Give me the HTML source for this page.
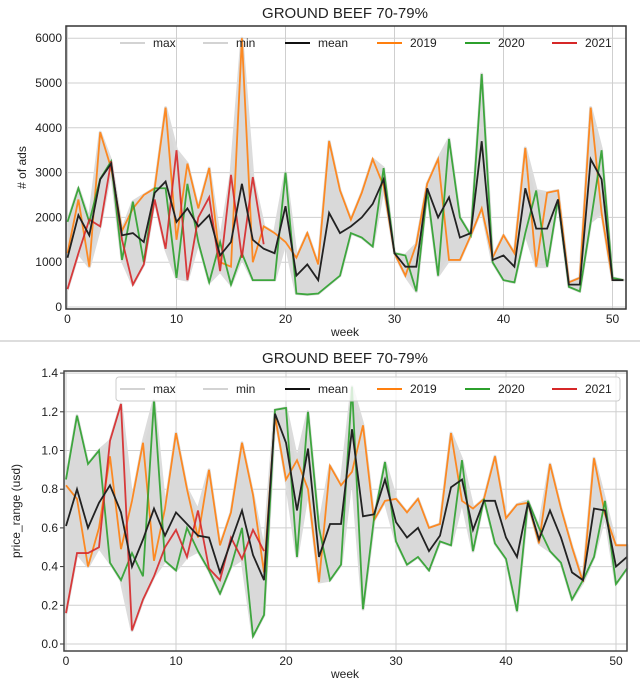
<!DOCTYPE html>
<html><head><meta charset="utf-8"><style>
body{margin:0;background:#fff;font-family:"Liberation Sans","DejaVu Sans",sans-serif;}
svg text{font-family:"Liberation Sans","DejaVu Sans",sans-serif;fill:#222;}
</style></head><body>
<svg id="c" width="640" height="695" viewBox="0 0 640 695" xmlns="http://www.w3.org/2000/svg"></svg>
<script>
const weeks = Array.from({length:52},(_,i)=>i);
const adsY2019 = [1200,2400,900,3900,3100,1700,2200,2500,2650,4450,1500,3200,2200,3100,1000,900,6000,1000,1800,1650,1450,1100,1650,950,3700,2600,1950,2550,3300,2700,1200,700,1400,2750,3300,1050,1050,1600,2200,1100,1600,1200,3550,900,2550,2600,550,650,4450,2100,600,600];
const adsY2020 = [1900,2650,1900,2860,3250,1050,2350,1000,2650,2650,650,2750,1450,550,1450,500,1200,600,600,600,3000,300,280,300,500,700,1650,1550,1350,3100,1200,1150,350,2600,700,3750,2000,1600,5200,1000,600,550,1650,2600,900,2400,450,350,1900,3500,650,600];
const adsY2021 = [400,1200,1950,1800,3250,1500,500,950,2400,1300,3500,600,2000,2450,800,2950,1100,2900,1400];
const adsMean = [1100,2050,1600,2850,3200,1600,1650,1450,2550,2800,1900,2200,1800,2050,1150,1450,2750,1500,1300,1200,2250,700,950,600,2100,1650,1800,2000,2300,2850,1200,900,900,2650,2000,2450,1550,1650,3700,1050,1150,900,2650,1750,1750,2400,500,500,3300,2850,600,600];
const prY2019 = [0.82,0.75,0.40,0.60,0.97,0.49,0.74,1.04,0.43,0.70,1.09,0.80,0.55,0.90,0.51,0.68,1.04,0.77,0.37,1.18,0.85,0.95,0.80,0.32,0.92,0.82,0.89,1.13,0.64,0.74,0.75,0.68,0.75,0.60,0.62,1.09,0.74,0.70,0.75,0.97,0.65,0.72,0.73,0.52,0.93,0.70,0.50,0.32,0.96,0.67,0.51,0.51];
const prY2020 = [0.85,1.18,0.93,1.00,0.42,0.33,0.47,0.35,1.26,0.43,0.38,0.60,0.48,0.38,0.26,0.40,0.60,0.04,0.15,1.21,1.22,0.45,1.20,0.60,0.33,0.41,1.33,0.18,0.65,0.94,0.53,0.41,0.45,0.38,0.53,0.51,0.95,0.48,0.75,0.52,0.44,0.17,0.74,0.60,0.48,0.42,0.23,0.33,0.45,0.74,0.31,0.39];
const prY2021 = [0.16,0.47,0.47,0.50,1.05,1.24,0.07,0.23,0.35,0.50,0.59,0.45,0.69,0.39,0.33,0.55,0.44,0.59,0.48];
const prMean = [0.61,0.80,0.60,0.73,0.82,0.68,0.40,0.54,0.70,0.56,0.68,0.62,0.56,0.55,0.37,0.53,0.69,0.46,0.33,1.19,1.04,0.69,1.01,0.45,0.62,0.62,1.11,0.66,0.67,0.85,0.63,0.55,0.60,0.48,0.56,0.81,0.85,0.59,0.74,0.74,0.55,0.45,0.73,0.54,0.69,0.55,0.37,0.33,0.70,0.69,0.40,0.45];
const adsYTicks = [0,1000,2000,3000,4000,5000,6000];
const prYTicks = [0,0.2,0.4,0.6,0.8,1.0,1.2,1.4];
const prYTickLabels = ["0.0","0.2","0.4","0.6","0.8","1.0","1.2","1.4"];
const xTicks = [0,10,20,30,40,50];
const legendLabels = ["max","min","mean","2019","2020","2021"];

const NS="http://www.w3.org/2000/svg";
const svg=document.getElementById('c');
function mk(tag,attrs,parent){const e=document.createElementNS(NS,tag);for(const k in attrs)e.setAttribute(k,attrs[k]);(parent||svg).appendChild(e);return e;}

function panel(o){
  const g=mk('g',{});
  
  
  const xs=w=>o.x0+o.dx*w, ys=v=>o.y0-o.dy*v;
  // title
  const t=mk('text',{x:345,y:o.titleY,'text-anchor':'middle','font-size':15},g);t.textContent="GROUND BEEF 70-79%";
  
  
  // grid
  xTicks.forEach(v=>{mk('line',{x1:xs(v),x2:xs(v),y1:o.top,y2:o.bot,stroke:'#cfcfcf','stroke-width':1},g);
    const l=mk('text',{x:xs(v),y:o.bot+14,'text-anchor':'middle','font-size':12},g);l.textContent=v;
    
    });
  o.yt.forEach((v,i)=>{mk('line',{x1:o.left,x2:o.right,y1:ys(v),y2:ys(v),stroke:'#cfcfcf','stroke-width':1},g);
    if(o.tickMarks)mk('line',{x1:o.left-4,x2:o.left,y1:ys(v),y2:ys(v),stroke:'#333'},g);
    const l=mk('text',{x:o.left-(o.tickMarks?6:4),y:ys(v)+4,'text-anchor':'end','font-size':12},g);l.textContent=o.ytl[i];
    
    });
  // band
  const n=weeks.length, up=[], lo=[];
  weeks.forEach(w=>{const vals=[o.s[0][w],o.s[1][w],o.s[2][w]].filter(v=>v!==undefined);up.push([xs(w),ys(Math.max(...vals))]);lo.push([xs(w),ys(Math.min(...vals))]);});
  const band=mk('polygon',{points:up.concat(lo.reverse()).map(p=>p.join(',')).join(' '),fill:'#d9d9d9',stroke:'#dcdcdc','stroke-width':3,'stroke-linejoin':'round'},g);
  
  
  const cols=['#ff7f0e','#2ca02c','#d62728'], nm=['series-2019','series-2020','series-2021'];
  o.s.forEach((arr,i)=>{const p=mk('polyline',{points:arr.map((v,w)=>xs(w)+','+ys(v)).join(' '),fill:'none',stroke:cols[i],'stroke-width':1.8,opacity:0.9},g);
    
    });
  const m=mk('polyline',{points:o.mean.map((v,w)=>xs(w)+','+ys(v)).join(' '),fill:'none',stroke:'#222','stroke-width':1.8},g);
  
  
  // frame
  mk('rect',{x:o.left,y:o.top,width:o.right-o.left,height:o.bot-o.top,fill:'none',stroke:o.frame,'stroke-width':1.5},g);
  // legend
  const lg=mk('g',{},g);
  
  
  if(o.legendBox)mk('rect',{x:116,y:o.legY-12,width:504,height:24,rx:3,fill:'#fff','fill-opacity':0.8,stroke:'#ccc'},lg);
  const lc=['#d3d3d3','#d3d3d3','#111','#ff7f0e','#2ca02c','#d62728'], lx=[117,200,282,374,462,549];
  legendLabels.forEach((s,i)=>{mk('line',{x1:lx[i]+3,x2:lx[i]+28,y1:o.legY,y2:o.legY,stroke:lc[i],'stroke-width':2},lg);
    const tx=mk('text',{x:lx[i]+36,y:o.legY+4,'font-size':12},lg);tx.textContent=s;
    
    });
  const xl=mk('text',{x:345,y:o.bot+27,'text-anchor':'middle','font-size':12},g);xl.textContent='week';
  
  
  const cy=(o.top+o.bot)/2;
  const yl=mk('text',{x:o.ylx,y:cy,'text-anchor':'middle','font-size':12,transform:`rotate(-90 ${o.ylx} ${cy})`},g);yl.textContent=o.ylabel;
  
  
}
panel({name:'ads-panel',x0:67.5,dx:10.9,y0:307,dy:0.0448,left:66,right:626,top:26,bot:309,yt:adsYTicks,ytl:adsYTicks.map(String),
  s:[adsY2019,adsY2020,adsY2021],mean:adsMean,titleY:18,legY:43,legendBox:false,frame:'#333',ylabel:'# of ads',ylx:26,tickMarks:false});
mk('line',{x1:0,x2:640,y1:341,y2:341,stroke:'#ddd','stroke-width':2});
panel({name:'price-panel',x0:66,dx:11,y0:644,dy:193.5,left:64,right:627,top:371,bot:651,yt:prYTicks,ytl:prYTickLabels,
  s:[prY2019,prY2020,prY2021],mean:prMean,titleY:363,legY:389,legendBox:true,frame:'#444',ylabel:'price_range (usd)',ylx:20,tickMarks:true});
</script>
</body></html>
